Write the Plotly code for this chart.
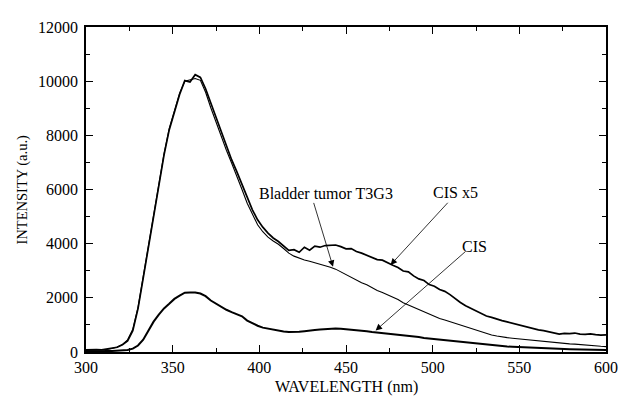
import plotly.graph_objects as go

# wavelength grid (nm)
wavelength = list(range(300, 601, 3))

bladder_t3g3 = [60, 80, 75, 90, 95, 130, 185, 280, 450, 840,
                1650, 2780, 3880, 4990, 6230, 7320, 8250, 8880, 9560, 10000,
                10040, 10100, 10030, 9590, 9020, 8480, 7930, 7450, 6980, 6510,
                6000, 5490, 5100, 4700, 4440, 4240, 4100, 3980, 3820, 3650,
                3540, 3460, 3400, 3350, 3300, 3250, 3200, 3130, 3060, 2960,
                2870, 2760, 2640, 2560, 2480, 2360, 2270, 2200, 2110, 2040,
                1940, 1820, 1740, 1640, 1550, 1470, 1390, 1310, 1240, 1180,
                1120, 1060, 1000, 920, 870, 800, 740, 690, 630, 590,
                550, 530, 510, 490, 470, 450, 420, 400, 380, 360,
                340, 320, 320, 300, 290, 270, 260, 240, 230, 210, 200]

cis_x5 = [80, 70, 85, 80, 105, 125, 175, 265, 410, 790,
          1600, 2730, 3830, 4940, 6180, 7270, 8200, 8860, 9510, 10020,
          9970, 10240, 10140, 9720, 9180, 8660, 8120, 7600, 7100, 6660,
          6180, 5690, 5250, 4880, 4610, 4390, 4210, 4080, 3910, 3750,
          3780, 3680, 3870, 3760, 3910, 3870, 3930, 3930, 3950, 3890,
          3810, 3820, 3710, 3650, 3560, 3480, 3410, 3390, 3280, 3200,
          3120, 2990, 2960, 2810, 2700, 2640, 2490, 2430, 2310, 2240,
          2120, 1960, 1830, 1710, 1620, 1500, 1420, 1330, 1280, 1210,
          1160, 1110, 1060, 1000, 960, 900, 865, 815, 790, 740,
          710, 660, 690, 680, 700, 660, 650, 670, 640, 620, 630]

cis = [20, 30, 25, 30, 35, 40, 45, 55, 75, 125,
       240, 455, 790, 1120, 1380, 1610, 1780, 1960, 2080, 2190,
       2200, 2200, 2160, 2060, 1900, 1780, 1660, 1560, 1470, 1380,
       1320, 1160, 1050, 970, 900, 860, 830, 790, 760, 740,
       740, 750, 770, 780, 810, 830, 850, 860, 870, 860,
       845, 820, 800, 790, 770, 740, 720, 710, 690, 670,
       640, 620, 600, 570, 550, 520, 500, 470, 450, 430,
       410, 390, 360, 340, 330, 310, 290, 270, 250, 230,
       210, 200, 190, 180, 170, 160, 150, 140, 130, 125,
       120, 115, 110, 105, 100, 95, 90, 85, 80, 75, 70]

x_ticks = [300, 350, 400, 450, 500, 550, 600]
y_ticks = [0, 2000, 4000, 6000, 8000, 10000, 12000]

labels = ["Bladder tumor T3G3", "CIS x5", "CIS"]
label_pos = [(438.5, 5855), (513, 5890), (524.4, 3900)]
arrow_tail = [(431.1, 5560), (509.5, 5565), (519.8, 3760)]
arrow_head = [(442.5, 3150), (475.7, 3216), (467.1, 795)]

FONT = '"Liberation Serif", "Times New Roman", Times, serif'

fig = go.Figure()
fig.add_trace(go.Scatter(x=wavelength, y=bladder_t3g3, mode="lines",
                         line=dict(color="black", width=1.1), name=labels[0]))
fig.add_trace(go.Scatter(x=wavelength, y=cis_x5, mode="lines",
                         line=dict(color="black", width=1.7), name=labels[1]))
fig.add_trace(go.Scatter(x=wavelength, y=cis, mode="lines",
                         line=dict(color="black", width=2), name=labels[2]))

annotations = []
for txt, (tx, ty) in zip(labels, label_pos):
    annotations.append(dict(x=tx, y=ty, xref="x", yref="y", text=txt,
                            showarrow=False, font=dict(family=FONT, size=16, color="black")))
for (ax_, ay_), (hx, hy) in zip(arrow_tail, arrow_head):
    annotations.append(dict(x=hx, y=hy, xref="x", yref="y", ax=ax_, ay=ay_,
                            axref="x", ayref="y", text="", showarrow=True,
                            arrowhead=2, arrowsize=1.6, arrowwidth=0.8,
                            arrowcolor="black"))
annotations.append(dict(x=0, y=0.5, xref="paper", yref="paper", xshift=-64,
                        text="INTENSITY (a.u.)", textangle=-90, showarrow=False,
                        xanchor="center", yanchor="middle",
                        font=dict(family=FONT, size=14.5, color="black")))
annotations.append(dict(x=0.5, y=0, xref="paper", yref="paper", yshift=-35,
                        text="WAVELENGTH (nm)", showarrow=False,
                        xanchor="center", yanchor="middle",
                        font=dict(family=FONT, size=16, color="black")))

axis_common = dict(showline=True, linecolor="black", linewidth=1.5, mirror="ticks",
                   ticks="inside", ticklen=7, tickwidth=1.2, tickcolor="black",
                   showgrid=False, zeroline=False, tickformat="d",
                   tickfont=dict(family=FONT, size=16, color="black"))

# the page body has an 8 px default margin, so the figure is sized to fit the window
fig.update_layout(
    width=621, height=390,
    margin=dict(l=78, r=19, t=11, b=46),
    paper_bgcolor="white", plot_bgcolor="white",
    showlegend=False,
    annotations=annotations,
    xaxis=dict(range=[300, 600], tickvals=x_ticks, ticklabelstandoff=0,
               minor=dict(dtick=25, ticks="inside", ticklen=4, tickcolor="black", tickwidth=1),
               **axis_common),
    yaxis=dict(range=[0, 12000], tickvals=y_ticks, ticklabelstandoff=3,
               minor=dict(dtick=1000, ticks="inside", ticklen=4, tickcolor="black", tickwidth=1),
               **axis_common),
)

fig.write_html("out.html")
